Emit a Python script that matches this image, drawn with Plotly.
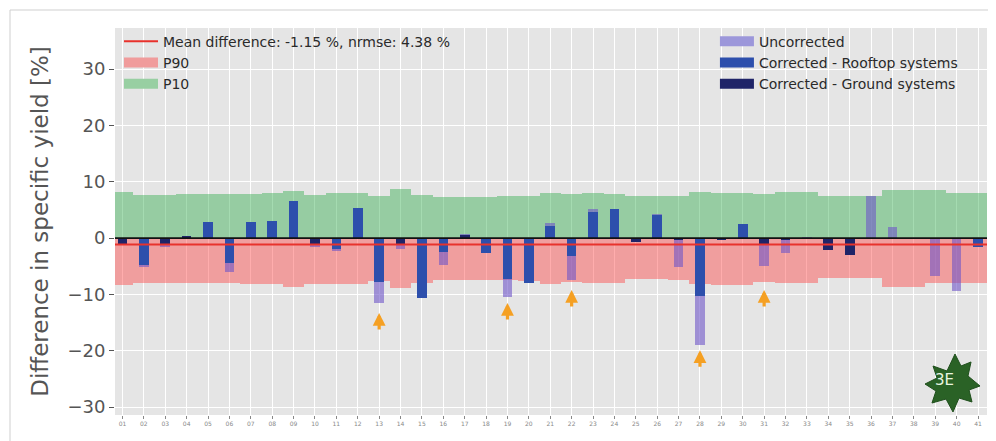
import plotly.graph_objects as go

# ---------------- data ----------------
categories = [f"{i:02d}" for i in range(1, 42)]

p10_band = [8.2, 7.7, 7.7, 7.8, 7.8, 7.8, 7.9, 8.0, 8.4, 7.7,
            8.0, 8.0, 7.5, 8.8, 7.7, 7.3, 7.3, 7.3, 7.4, 7.4,
            8.0, 7.9, 8.0, 7.9, 7.4, 7.4, 7.4, 8.2, 8.0, 8.0,
            7.9, 8.2, 8.2, 7.4, 7.4, 7.4, 8.5, 8.5, 8.5, 8.0, 8.0]

p90_band = [-8.3, -7.9, -8.0, -8.0, -8.0, -8.0, -8.1, -8.2, -8.6, -8.2,
            -8.2, -8.2, -7.6, -8.8, -8.0, -7.5, -7.5, -7.5, -7.5, -7.7,
            -8.1, -7.8, -8.0, -8.0, -7.3, -7.3, -7.4, -8.1, -8.3, -8.4,
            -7.8, -8.0, -8.0, -7.1, -7.1, -7.1, -8.6, -8.6, -8.0, -8.0, -8.0]

uncorrected = [-1.2, -5.2, -1.5, 0.3, 2.8, -6.0, 2.8, 3.0, 6.6, -1.6,
               -2.3, 5.3, -11.6, -1.9, -10.7, -4.8, 0.8, -2.7, -10.5, -8.0,
               2.6, -7.5, 5.2, 5.1, -0.6, 4.3, -5.1, -19.0, -0.3, 2.5,
               -5.0, -2.7, 0.2, -1.8, -3.0, 7.5, 2.0, 0.0, -6.7, -9.4, -1.5]

corrected = [-1.0, -4.8, -1.0, 0.3, 2.8, -4.4, 2.8, 3.0, 6.6, -1.2,
             -2.0, 5.3, -7.8, -1.0, -10.7, -2.4, 0.6, -2.7, -7.3, -8.0,
             2.2, -3.2, 4.6, 5.1, -0.6, 4.1, -0.3, -10.2, -0.3, 2.5,
             -1.2, -0.3, 0.0, -2.1, -3.0, None, None, None, None, None, -1.5]

system_type = ["G", "R", "G", "G", "R", "R", "R", "R", "R", "G",
               "R", "R", "R", "G", "R", "R", "G", "R", "R", "R",
               "R", "R", "R", "R", "G", "R", "G", "R", "G", "R",
               "G", "G", "G", "G", "G", "-", "-", "-", "-", "-", "R"]

mean_diff = -1.15
nrmse = 4.38

arrow_categories = ["13", "19", "22", "28", "31"]
arrow_tips = [-13.3, -11.5, -9.2, -19.9, -9.2]

y_ticks = [-30, -20, -10, 0, 10, 20, 30]

# ---------------- styling ----------------
FONT = "DejaVu Sans"
RED_BAND = "rgba(255,60,60,0.42)"
GREEN_BAND = "rgba(40,170,70,0.42)"
UNCORR = "rgba(110,85,200,0.60)"
ROOF = "#2d4fac"
GROUND = "#1f2468"
ORANGE = "#f5a023"

rooftop = [v if t == "R" else None for v, t in zip(corrected, system_type)]
ground = [v if t == "G" else None for v, t in zip(corrected, system_type)]

fig = go.Figure()

fig.add_trace(go.Bar(x=categories, y=p90_band, width=1.0, marker_color=RED_BAND,
                     marker_line_width=0, showlegend=False, name="P90"))
fig.add_trace(go.Bar(x=categories, y=p10_band, width=1.0, marker_color=GREEN_BAND,
                     marker_line_width=0, showlegend=False, name="P10"))
fig.add_trace(go.Bar(x=categories, y=uncorrected, width=0.45, marker_color=UNCORR,
                     marker_line_width=0, showlegend=False, name="Uncorrected"))
fig.add_trace(go.Bar(x=categories, y=rooftop, width=0.45, marker_color=ROOF,
                     marker_line_width=0, showlegend=False, name="Corrected - Rooftop systems"))
fig.add_trace(go.Bar(x=categories, y=ground, width=0.45, marker_color=GROUND,
                     marker_line_width=0, showlegend=False, name="Corrected - Ground systems"))

# legend entries (patch-like)
mean_label = f"Mean difference: {mean_diff:.2f} %, nrmse: {nrmse:.2f} %"
legend_items = [
    (mean_label, "#e8322c", 2, "legend"),
    ("P90", "#f09c9c", 10, "legend"),
    ("P10", "#98cfa2", 10, "legend"),
    ("Uncorrected", "#9c97da", 10, "legend2"),
    ("Corrected - Rooftop systems", ROOF, 10, "legend2"),
    ("Corrected - Ground systems", GROUND, 10, "legend2"),
]
for name, col, w, lg in legend_items:
    fig.add_trace(go.Scatter(x=[None], y=[None], mode="lines", name=name,
                             line=dict(color=col, width=w), legend=lg,
                             hoverinfo="skip"))

shapes = [
    dict(type="line", xref="paper", x0=0, x1=1, yref="y", y0=0, y1=0,
         line=dict(color="#111111", width=1.6), layer="above"),
    dict(type="line", xref="paper", x0=0, x1=1, yref="y", y0=mean_diff, y1=mean_diff,
         line=dict(color="#e8322c", width=2), layer="above"),
]

# page has an 8px body margin: target pixel positions are converted accordingly
OFF = 8
L, R_, T, B = 115, 987, 28, 415
def px(x, y):
    return (x - L) / (R_ - L), (B - y) / (B - T)

# logo leaf (decoration)
leaf_pts = [(955, 354), (961, 366), (971, 362), (968, 376), (980, 386), (969, 390),
            (972, 402), (959, 398), (953, 412), (946, 399), (932, 403), (936, 391),
            (925, 384), (937, 378), (933, 366), (947, 371)]
path = "M " + " L ".join(f"{px(a, b)[0]:.4f},{px(a, b)[1]:.4f}" for a, b in leaf_pts) + " Z"
shapes.append(dict(type="path", xref="paper", yref="paper", path=path,
                   fillcolor="#2a6226", line=dict(color="#1f4f1c", width=1), layer="above"))
# outer frame
fx0, fy0 = px(10, 446)
fx1, fy1 = px(990, 10)
shapes.append(dict(type="rect", xref="paper", yref="paper", x0=fx0, y0=fy0, x1=fx1, y1=fy1,
                   line=dict(color="#cfcfcf", width=1), fillcolor="rgba(0,0,0,0)", layer="below"))

annotations = []
for c, tip in zip(arrow_categories, arrow_tips):
    annotations.append(dict(x=categories.index(c), y=tip, xref="x", yref="y", ax=0, ay=18,
                            text="", showarrow=True, arrowhead=2, arrowsize=0.8,
                            arrowwidth=3.2, arrowcolor=ORANGE, standoff=0))
lx, ly = px(956, 391)
annotations.append(dict(x=lx, y=ly, xref="paper", yref="paper", text="3E", showarrow=False,
                        font=dict(family=FONT, size=15, color="#e8f5e0")))

W, H = 996 - OFF, 441 - OFF
fig.update_layout(
    width=W, height=H,
    margin=dict(l=L - OFF, r=W - (R_ - OFF), t=T - OFF, b=H - (B - OFF)),
    paper_bgcolor="white",
    plot_bgcolor="#e5e5e5",
    barmode="overlay",
    bargap=0,
    font=dict(family=FONT, color="#555555"),
    shapes=shapes,
    annotations=annotations,
    legend=dict(x=4 / 872, y=1.006, xanchor="left", yanchor="top", bgcolor="rgba(0,0,0,0)",
                font=dict(family=FONT, size=14, color="#2a2a2a"), itemwidth=34,
                tracegroupgap=0),
    legend2=dict(x=0.688, y=1.006, xanchor="left", yanchor="top", bgcolor="rgba(0,0,0,0)",
                 font=dict(family=FONT, size=14, color="#2a2a2a"), itemwidth=34,
                 tracegroupgap=0),
    showlegend=True,
)

fig.update_xaxes(type="category", range=[-0.35, 40.42], showgrid=True, gridcolor="white",
                 gridwidth=1, ticks="outside", ticklen=3, tickcolor="#888888",
                 tickfont=dict(size=6, color="#888888"), zeroline=False, showline=False)
fig.update_yaxes(range=[-31.4, 37.3], tickvals=y_ticks, showgrid=True, gridcolor="white",
                 gridwidth=1, ticks="outside", ticklen=5, tickcolor="#555555",
                 tickfont=dict(size=18, color="#555555"), zeroline=False, showline=False,
                 title=dict(text="Difference in specific yield [%]", standoff=12,
                            font=dict(size=23, color="#555555")))

fig.write_html("out.html")
